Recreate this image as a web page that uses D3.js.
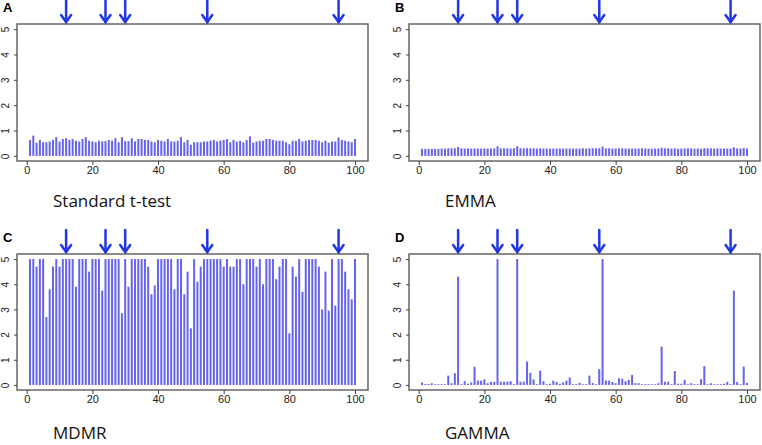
<!DOCTYPE html>
<html>
<head>
<meta charset="utf-8">
<script src="https://cdn.jsdelivr.net/npm/d3@7"></script>
<style>
  body { margin: 0; background: #fff; }
  svg { display: block; }
</style>
</head>
<body>
<svg id="chart"></svg>
<script>
// values, one per marker position 1..100
const tTest = [
  0.63, 0.8, 0.52, 0.63, 0.54, 0.54, 0.57, 0.63, 0.74, 0.57,
  0.67, 0.7, 0.63, 0.67, 0.6, 0.57, 0.67, 0.74, 0.6, 0.57,
  0.54, 0.6, 0.58, 0.58, 0.63, 0.6, 0.7, 0.54, 0.74, 0.58,
  0.58, 0.7, 0.57, 0.67, 0.67, 0.63, 0.63, 0.57, 0.54, 0.63,
  0.6, 0.57, 0.67, 0.57, 0.57, 0.6, 0.74, 0.54, 0.63, 0.44,
  0.54, 0.54, 0.54, 0.57, 0.57, 0.6, 0.63, 0.57, 0.6, 0.63,
  0.66, 0.54, 0.63, 0.57, 0.6, 0.54, 0.63, 0.77, 0.52, 0.57,
  0.6, 0.6, 0.67, 0.67, 0.63, 0.6, 0.6, 0.6, 0.54, 0.46,
  0.6, 0.6, 0.67, 0.57, 0.6, 0.63, 0.63, 0.63, 0.6, 0.54,
  0.6, 0.52, 0.57, 0.57, 0.73, 0.63, 0.6, 0.57, 0.54, 0.67
];
const emma = [
  0.28, 0.28, 0.28, 0.28, 0.28, 0.28, 0.29, 0.29, 0.3, 0.3,
  0.3, 0.35, 0.3, 0.29, 0.29, 0.29, 0.29, 0.29, 0.29, 0.29,
  0.29, 0.29, 0.3, 0.38, 0.3, 0.3, 0.3, 0.29, 0.3, 0.38,
  0.3, 0.3, 0.3, 0.3, 0.3, 0.29, 0.3, 0.29, 0.29, 0.29,
  0.29, 0.29, 0.29, 0.29, 0.29, 0.29, 0.29, 0.29, 0.29, 0.3,
  0.29, 0.3, 0.3, 0.3, 0.3, 0.37, 0.3, 0.3, 0.29, 0.29,
  0.3, 0.3, 0.29, 0.29, 0.29, 0.29, 0.29, 0.3, 0.29, 0.29,
  0.28, 0.29, 0.29, 0.32, 0.3, 0.3, 0.29, 0.3, 0.28, 0.29,
  0.29, 0.3, 0.29, 0.29, 0.29, 0.28, 0.31, 0.3, 0.3, 0.29,
  0.29, 0.29, 0.29, 0.29, 0.29, 0.34, 0.3, 0.29, 0.31, 0.29
];
const mdmr = [
  5, 5, 4.7, 5, 5, 2.7, 3.8, 4.7, 5, 4.7,
  5, 5, 5, 5, 3.9, 5, 5, 5, 4.5, 5,
  5, 5, 3.75, 5, 5, 5, 5, 5, 2.85, 5,
  3.9, 5, 5, 5, 5, 5, 4.7, 3.6, 3.95, 5,
  5, 5, 5, 5, 3.8, 5, 5, 3.6, 4.5, 2.25,
  5, 4.1, 4.7, 5, 5, 5, 5, 5, 5, 4.7,
  5, 4.7, 4.7, 5, 5, 4.0, 5, 5, 5, 4.7,
  5, 4.0, 5, 5, 5, 4.2, 4.7, 5, 5, 2.05,
  4.7, 4.3, 5, 3.7, 5, 5, 5, 5, 4.7, 3.0,
  4.5, 2.95, 5, 3.15, 5, 5, 4.5, 3.8, 3.4, 5
];
const gamma = [
  0.1, 0.04, 0.04, 0.07, 0.03, 0.03, 0.03, 0.03, 0.37, 0.07,
  0.47, 4.3, 0.03, 0.15, 0.05, 0.1, 0.72, 0.17, 0.17, 0.22,
  0.07, 0.12, 0.12, 5, 0.13, 0.13, 0.13, 0.15, 0.03, 5,
  0.13, 0.13, 0.93, 0.48, 0.22, 0.03, 0.57, 0.15, 0.03, 0.05,
  0.17, 0.12, 0.05, 0.1, 0.17, 0.3, 0.03, 0.03, 0.08, 0.03,
  0.03, 0.37, 0.08, 0.03, 0.63, 5, 0.18, 0.17, 0.12, 0.07,
  0.27, 0.25, 0.15, 0.2, 0.4, 0.07, 0.07, 0.03, 0.03, 0.03,
  0.03, 0.03, 0.07, 1.52, 0.13, 0.13, 0.03, 0.55, 0.05, 0.05,
  0.2, 0.03, 0.07, 0.03, 0.03, 0.23, 0.75, 0.03, 0.07, 0.03,
  0.03, 0.03, 0.05, 0.12, 0.03, 3.75, 0.12, 0.03, 0.73, 0.08
];
const arrowPos = [12, 24, 30, 55, 95];
const xTicks = [0, 20, 40, 60, 80, 100];
const yTicks = [0, 1, 2, 3, 4, 5];
const panelLetters = ['A', 'B', 'C', 'D'];
const panelTitles = ['Standard t-test', 'EMMA', 'MDMR', 'GAMMA'];
const panelSeries = [tTest, emma, mdmr, gamma];

const W = 762, H = 445;
const barColor = '#6464ec';
const arrowColor = '#2236e6';

const svg = d3.select('#chart').attr('width', W).attr('height', H);

// plot boxes (left, top, right, bottom) for each panel
const boxes = [
  { x0: 17, y0: 24, x1: 368, y1: 161 },
  { x0: 409, y0: 24, x1: 760, y1: 161 },
  { x0: 17, y0: 254, x1: 368, y1: 390 },
  { x0: 409, y0: 254, x1: 760, y1: 390 }
];

panelSeries.forEach((values, p) => {
  const b = boxes[p];
  const data = values.map((v, i) => ({ pos: i + 1, value: v }));

  // R-style 4% padding on both axes
  const x = d3.scaleLinear().domain([-2.96, 103.96]).range([b.x0, b.x1]);
  const y = d3.scaleLinear().domain([-0.2, 5.2]).range([b.y1, b.y0]);

  const g = svg.append('g');

  // bars (type = "h")
  g.append('g')
    .selectAll('line')
    .data(data)
    .join('line')
    .attr('x1', d => x(d.pos))
    .attr('x2', d => x(d.pos))
    .attr('y1', y(0))
    .attr('y2', d => y(d.value))
    .attr('stroke', barColor)
    .attr('stroke-width', 2);

  // frame
  g.append('rect')
    .attr('x', b.x0).attr('y', b.y0)
    .attr('width', b.x1 - b.x0).attr('height', b.y1 - b.y0)
    .attr('fill', 'none')
    .attr('stroke', '#666')
    .attr('stroke-width', 1.5);

  // x axis
  const xAxis = g.append('g')
    .attr('transform', `translate(0,${b.y1})`)
    .call(d3.axisBottom(x).tickValues(xTicks).tickSize(4).tickPadding(1));
  xAxis.select('.domain').remove();
  xAxis.selectAll('line').attr('stroke', '#444');
  xAxis.selectAll('text')
    .attr('font-family', 'Liberation Sans, Arial, sans-serif')
    .attr('font-size', 11)
    .attr('fill', '#222');

  // y axis with rotated labels
  const yAxis = g.append('g')
    .attr('transform', `translate(${b.x0},0)`)
    .call(d3.axisLeft(y).tickValues(yTicks).tickSize(3).tickFormat(d3.format('d')));
  yAxis.select('.domain').remove();
  yAxis.selectAll('line').attr('stroke', '#444');
  yAxis.selectAll('text')
    .attr('x', null).attr('dy', null)
    .attr('text-anchor', 'middle')
    .attr('transform', 'translate(-8,0) rotate(-90)')
    .attr('font-family', 'Liberation Sans, Arial, sans-serif')
    .attr('font-size', 10)
    .attr('fill', '#222');

  // arrows marking the causal positions
  const arrows = g.append('g')
    .selectAll('g')
    .data(arrowPos)
    .join('g')
    .attr('stroke', arrowColor)
    .attr('stroke-width', 2.5)
    .attr('fill', 'none')
    .attr('stroke-linecap', 'round');
  const tip = b.y0 - 2, start = b.y0 - 24;
  arrows.append('line')
    .attr('x1', d => x(d)).attr('x2', d => x(d))
    .attr('y1', start).attr('y2', tip);
  arrows.append('path')
    .attr('d', d => `M${x(d) - 5},${tip - 7}L${x(d)},${tip}L${x(d) + 5},${tip - 7}`);

  // panel letter
  svg.append('text')
    .attr('x', b.x0 - 14)
    .attr('y', b.y0 - 12)
    .attr('font-family', 'Liberation Sans, Arial, sans-serif')
    .attr('font-weight', 'bold')
    .attr('font-size', 13)
    .text(panelLetters[p]);

  // method name under the panel
  svg.append('text')
    .attr('x', b.x0 + 36)
    .attr('y', p < 2 ? 207 : 439)
    .attr('font-family', 'Open Sans, Noto Sans, sans-serif')
    .attr('font-size', 17)
    .attr('fill', '#111')
    .text(panelTitles[p]);
});
</script>
</body>
</html>
